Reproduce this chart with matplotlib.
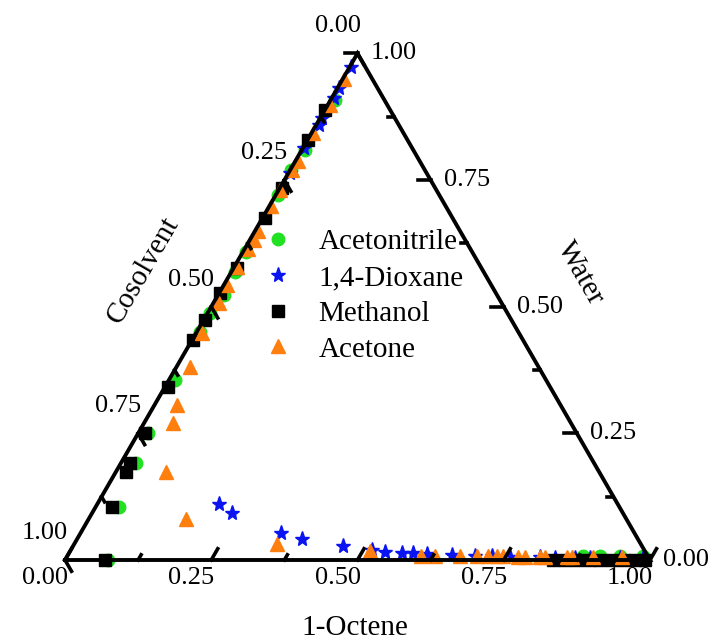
import numpy as np
import matplotlib
matplotlib.use('Agg')
import matplotlib.pyplot as plt

plt.rcParams['font.family'] = ['Liberation Serif', 'DejaVu Serif']

# compositions: (1-octene fraction, water fraction); cosolvent = rest
acn_oct = [0.008, 0.006, 0.002, 0.004, 0.005, 0.006, 0.010, 0.004, 0.005, 0.010,
           0.017, 0.026, 0.040, 0.074, 0.881, 0.910, 0.945, 0.984]
acn_wat = [0.908, 0.809, 0.770, 0.720, 0.608, 0.568, 0.523, 0.488, 0.450, 0.355,
           0.251, 0.191, 0.105, 0.000, 0.008, 0.008, 0.008, 0.008]

diox_oct = [0.002, 0.003, 0.004, 0.003, 0.005, 0.002, 0.003,
            0.208, 0.239, 0.343, 0.384, 0.461, 0.515, 0.539, 0.569, 0.588, 0.613,
            0.657, 0.697, 0.726, 0.758, 0.809, 0.836, 0.870, 0.895, 0.947, 0.986]
diox_wat = [0.973, 0.932, 0.912, 0.872, 0.859, 0.813, 0.764,
            0.111, 0.093, 0.053, 0.041, 0.028, 0.020, 0.016, 0.014, 0.014, 0.012,
            0.010, 0.008, 0.008, 0.006, 0.006, 0.004, 0.004, 0.004, 0.004, 0.004]

meoh_oct = [0.001, 0.001, 0.004, 0.005, 0.006, 0.002, 0.002, 0.002, 0.005, 0.012,
            0.016, 0.018, 0.028, 0.068, 0.835, 0.855, 0.875, 0.895, 0.915,
            0.935, 0.955, 0.975, 0.992]
meoh_wat = [0.888, 0.829, 0.735, 0.675, 0.576, 0.527, 0.474, 0.434, 0.341, 0.251,
            0.191, 0.174, 0.105, 0.000, 0.000, 0.000, 0.000, 0.000, 0.000,
            0.000, 0.000, 0.000, 0.000]

acet_oct = [0.003, 0.004, 0.003, 0.004, 0.003, 0.003, 0.003, 0.006, 0.007, 0.006,
            0.005, 0.006, 0.010, 0.010,
            0.023, 0.038, 0.050, 0.086, 0.167, 0.346, 0.512,
            0.604, 0.629, 0.671, 0.700, 0.719, 0.734, 0.745, 0.771, 0.783, 0.809,
            0.818, 0.855, 0.864, 0.900, 0.949]
acet_wat = [0.949, 0.898, 0.843, 0.788, 0.770, 0.730, 0.699, 0.649, 0.632, 0.614,
            0.578, 0.543, 0.507, 0.448,
            0.381, 0.306, 0.270, 0.174, 0.081, 0.032, 0.018,
            0.008, 0.008, 0.008, 0.008, 0.008, 0.008, 0.008, 0.006, 0.006, 0.006,
            0.006, 0.006, 0.006, 0.006, 0.006]

ticks = [0.0, 0.25, 0.5, 0.75, 1.0]
minor = [0.125, 0.375, 0.625, 0.875]
tick_labels = ['0.00', '0.25', '0.50', '0.75', '1.00']

H = np.sqrt(3) / 2


def to_xy(octene, water):
    o = np.asarray(octene)
    w = np.asarray(water)
    return o + w / 2, w * H


fig = plt.figure(figsize=(7.14, 6.41), dpi=100)
ax = fig.add_axes([65 / 714, 81 / 641, 585 / 714, 506.6 / 641])
ax.set_xlim(0, 1)
ax.set_ylim(0, H)
ax.axis('off')

# triangle frame
ax.plot([0, 1, 0.5, 0], [0, 0, H, 0], color='black', lw=2.8, clip_on=False,
        solid_joinstyle='miter', zorder=3)

# ticks
px = 1 / 585
for vals, L in ((ticks, 13 * px), (minor, 6 * px)):
    for t in vals:
        # bottom (1-Octene), ticks parallel to left edge
        ax.plot([t, t + 0.5 * L], [0, H * L], color='black', lw=2.6,
                clip_on=False, zorder=3)
        # right (Water), horizontal ticks
        xr, yr = 1 - t / 2, t * H
        ax.plot([xr, xr - L], [yr, yr], color='black', lw=2.6,
                clip_on=False, zorder=3)
        # left (Cosolvent), ticks parallel to right edge
        xl, yl = (1 - t) / 2, (1 - t) * H
        ax.plot([xl, xl + 0.5 * L], [yl, yl - H * L], color='black', lw=2.6,
                clip_on=False, zorder=3)

p2pt = 0.72
for t, lab in zip(ticks, tick_labels):
    ax.annotate(lab, (t, 0), xytext=(-20 * p2pt, -18 * p2pt), textcoords='offset points',
                ha='center', va='center', fontsize=19, annotation_clip=False)
    ax.annotate(lab, (1 - t / 2, t * H), xytext=(13 * p2pt, 0), textcoords='offset points',
                ha='left', va='center', fontsize=19, annotation_clip=False)
    ax.annotate(lab, ((1 - t) / 2, (1 - t) * H), xytext=(-20 * p2pt, 27 * p2pt),
                textcoords='offset points', ha='center', va='center', fontsize=19,
                annotation_clip=False)

fig.text(355 / 714, 1 - 628 / 641, '1-Octene', ha='center', va='center', fontsize=21)
fig.text(143 / 714, 1 - 270 / 641, 'Cosolvent', ha='center', va='center', fontsize=21,
         rotation=60)
fig.text(580 / 714, 1 - 273 / 641, 'Water', ha='center', va='center', fontsize=21,
         rotation=-60)

x, y = to_xy(acn_oct, acn_wat)
ax.plot(x, y, 'o', color='#22e022', ms=9, ls='none', clip_on=False, label='Acetonitrile')
x, y = to_xy(diox_oct, diox_wat)
ax.plot(x, y, '*', color='#0a14f0', ms=11, ls='none', clip_on=False, label='1,4-Dioxane')
x, y = to_xy(meoh_oct, meoh_wat)
ax.plot(x, y, 's', color='black', ms=8.5, ls='none', clip_on=False, label='Methanol')
x, y = to_xy(acet_oct, acet_wat)
ax.plot(x, y, '^', color='#ff7f0e', ms=10, ls='none', clip_on=False, label='Acetone')

ax.legend(loc='upper left', bbox_to_anchor=(266 / 714, 1 - 229 / 641),
          bbox_transform=fig.transFigure, frameon=False, fontsize=21,
          handlelength=0.8, handletextpad=1.0, labelspacing=0.32,
          borderpad=0, borderaxespad=0)

fig.savefig('out.png', dpi=100)
